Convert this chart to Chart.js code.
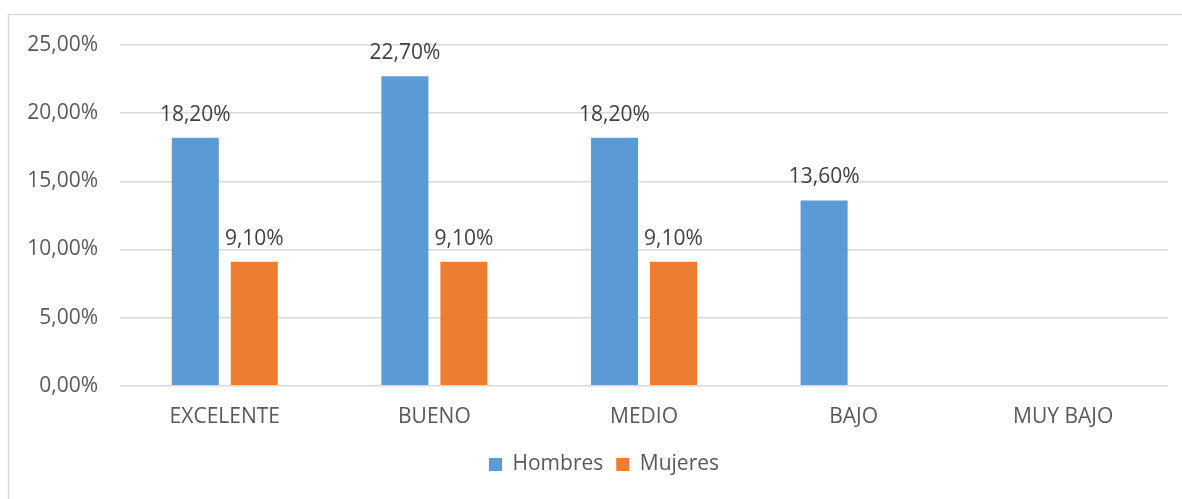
<!DOCTYPE html>
<html>
<head>
<meta charset="utf-8">
<script src="https://cdn.jsdelivr.net/npm/chart.js@4"></script>
<style>
html,body{margin:0;padding:0;background:#fff;}
#wrap{width:1182px;height:499px;position:relative;}
</style>
</head>
<body>
<div id="wrap"><canvas id="c" width="1182" height="499"></canvas></div>
<script>
const categories = ["EXCELENTE", "BUENO", "MEDIO", "BAJO", "MUY BAJO"];
const hombres = [18.2, 22.7, 18.2, 13.6, 0];
const mujeres = [9.1, 9.1, 9.1, 0, 0];
const seriesNames = ["Hombres", "Mujeres"];
const yTicks = [0, 5, 10, 15, 20, 25];

const FONT = "'Open Sans', 'Noto Sans', sans-serif";
const TXT = '#595959';
const fmt = v => v.toFixed(2).replace('.', ',') + '%';

const frame = {
  id: 'frame',
  beforeDraw(chart) {
    const ctx = chart.ctx;
    ctx.save();
    ctx.strokeStyle = '#d9d9d9';
    ctx.lineWidth = 1.5;
    ctx.beginPath();
    ctx.moveTo(8.5, 600);
    ctx.lineTo(8.5, 14.5);
    ctx.lineTo(1300, 14.5);
    ctx.stroke();
    ctx.restore();
  }
};

const legendShift = {
  id: 'legendShift',
  afterLayout(chart) {
    const lg = chart.legend;
    if (!lg) return;
    const d = 20;
    lg.left += d;
    lg.right += d;
    if (lg.adjustHitBoxes) lg.adjustHitBoxes();
  }
};

const dataLabels = {
  id: 'dataLabels',
  afterDatasetsDraw(chart) {
    const ctx = chart.ctx;
    ctx.save();
    ctx.font = '21px ' + FONT;
    ctx.fillStyle = '#404040';
    ctx.textAlign = 'center';
    ctx.textBaseline = 'middle';
    chart.data.datasets.forEach((ds, i) => {
      const meta = chart.getDatasetMeta(i);
      meta.data.forEach((el, j) => {
        const v = ds.data[j];
        if (v > 0) ctx.fillText(fmt(v), el.x, el.y - 23);
      });
    });
    ctx.restore();
  }
};

new Chart(document.getElementById('c'), {
  type: 'bar',
  data: {
    labels: categories,
    datasets: [
      { label: seriesNames[0], data: hombres, backgroundColor: '#5B9BD5' },
      { label: seriesNames[1], data: mujeres, backgroundColor: '#ED7D31' }
    ]
  },
  options: {
    responsive: false,
    animation: false,
    devicePixelRatio: 1,
    categoryPercentage: 0.563,
    barPercentage: 0.797,
    layout: { padding: { left: 0, right: 14, top: 45, bottom: 14 } },
    plugins: {
      legend: {
        position: 'bottom',
        labels: {
          font: { family: FONT, size: 21 },
          color: TXT,
          boxWidth: 13,
          boxHeight: 13,
          padding: 13
        }
      },
      tooltip: { enabled: false }
    },
    scales: {
      x: {
        grid: { display: false },
        border: { display: false },
        ticks: { font: { family: FONT, size: 21 }, color: TXT, padding: 11, maxRotation: 0 }
      },
      y: {
        min: 0, max: 25,
        afterBuildTicks: s => { s.ticks = yTicks.map(v => ({ value: v })); },
        afterFit: s => { s.width = 120; },
        grid: { color: '#d9d9d9', lineWidth: 1.5, drawTicks: false },
        border: { display: false },
        ticks: { font: { family: FONT, size: 21 }, color: TXT, padding: 22, callback: v => fmt(v) }
      }
    }
  },
  plugins: [frame, legendShift, dataLabels]
});
</script>
</body>
</html>
